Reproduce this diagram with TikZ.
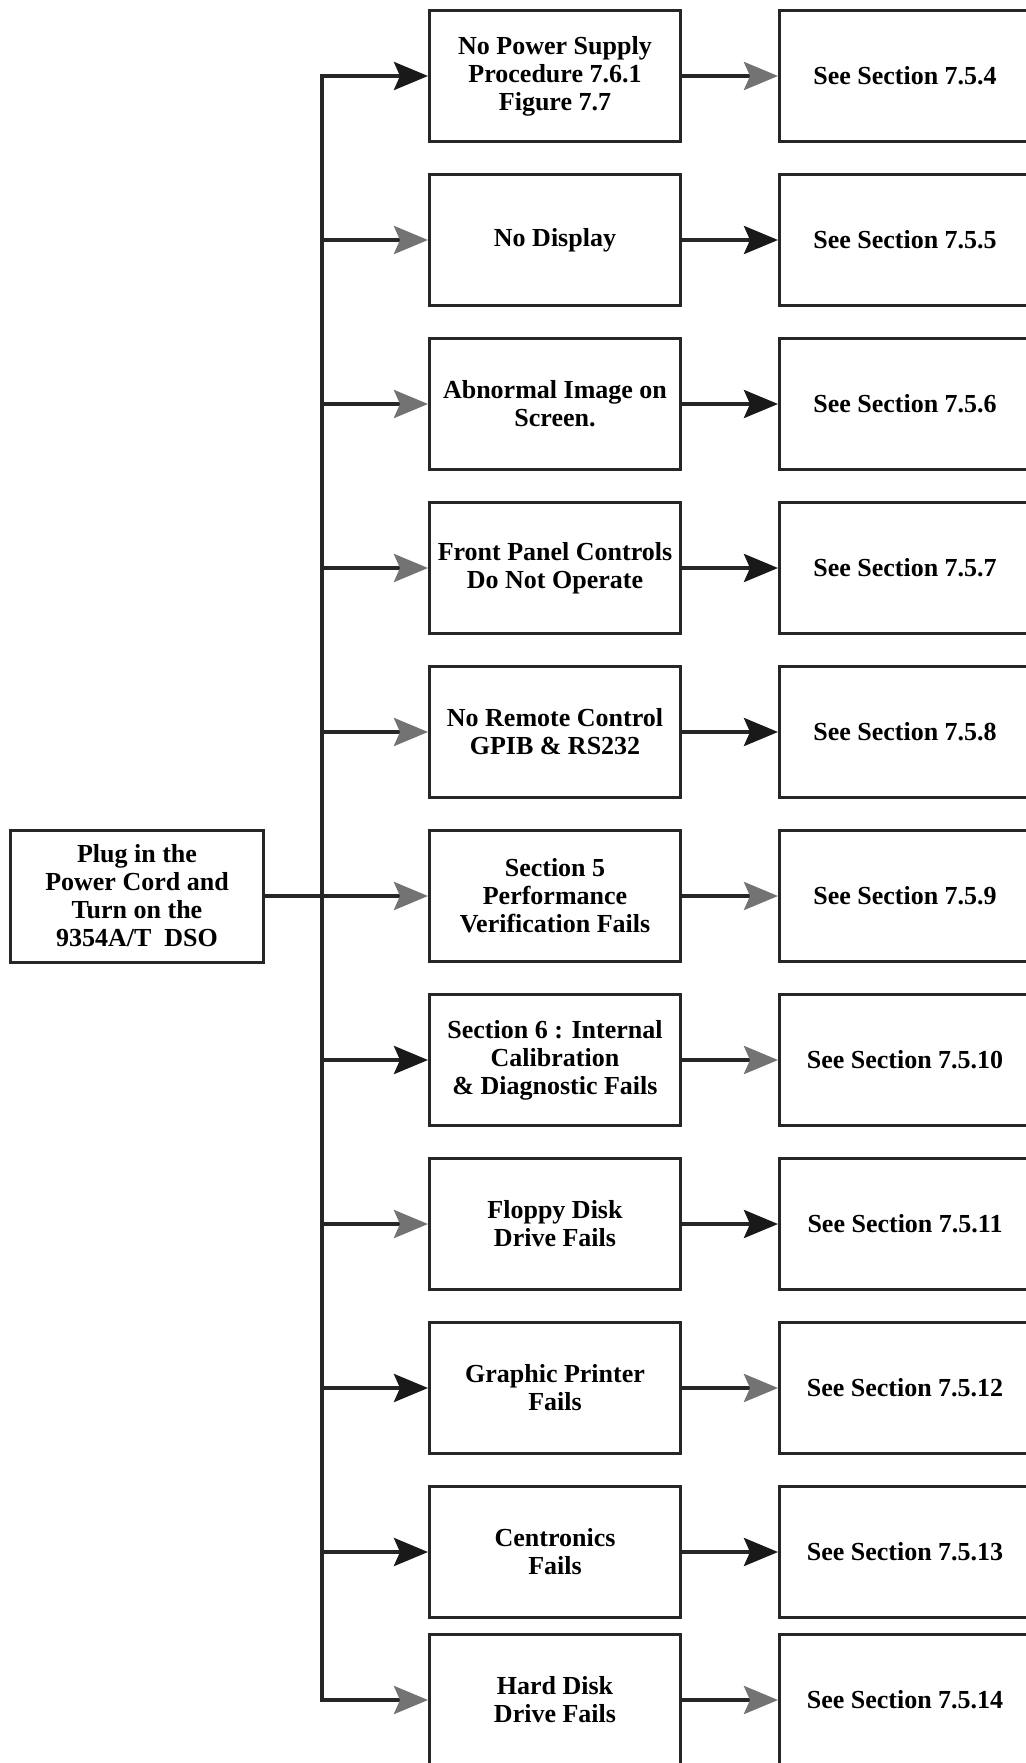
\documentclass[tikz,border=0pt]{standalone}
\usepackage{fontspec}
\setmainfont{Liberation Serif}
\usepackage{tikz}
\usetikzlibrary{arrows.meta, positioning}

\begin{document}
\begin{tikzpicture}[
  x=1pt, y=1pt, font=\fontsize{26}{28}\selectfont\bfseries, node distance=30pt,
  fault/.style={rectangle, draw=black!85, line width=3pt, fill=white, align=center,
                minimum width=251pt, minimum height=131pt, inner sep=3pt},
  seebox/.style={fault},
  plugbox/.style={fault, minimum width=253pt, minimum height=132pt},
  bus/.style={line width=4pt, draw=black!85, line cap=rect},
  link/.style={line width=4pt, draw=black!85,
               -{Stealth[length=34pt, width=28pt, inset=6pt, color=black!55]}},
  darklink/.style={line width=4pt, draw=black!85,
               -{Stealth[length=34pt, width=28pt, inset=6pt, color=black!90]}}]
  \useasboundingbox (0,0) rectangle (1025,-1763);
  % fault column
  \node[fault] (power) at (555,-76) {No Power Supply\\Procedure 7.6.1\\Figure 7.7};
  \node[fault, below=of power] (display) {No Display};
  \node[fault, below=of display] (image) {Abnormal Image on\\Screen.};
  \node[fault, below=of image] (panel) {Front Panel Controls\\Do Not Operate};
  \node[fault, below=of panel] (remote) {No Remote Control\\GPIB \& RS232};
  \node[fault, below=of remote] (perf) {Section 5\\Performance\\Verification Fails};
  \node[fault, below=of perf] (calib) {Section 6 : Internal\\Calibration\\\& Diagnostic Fails};
  \node[fault, below=of calib] (floppy) {Floppy Disk\\Drive Fails};
  \node[fault, below=of floppy] (printer) {Graphic Printer\\Fails};
  \node[fault, below=of printer] (centr) {Centronics\\Fails};
  \node[fault, below=14pt of centr] (hard) {Hard Disk\\Drive Fails};
  % section column
  \node[seebox, right=96pt of power] (see4) {See Section 7.5.4};
  \node[seebox, right=96pt of display] (see5) {See Section 7.5.5};
  \node[seebox, right=96pt of image] (see6) {See Section 7.5.6};
  \node[seebox, right=96pt of panel] (see7) {See Section 7.5.7};
  \node[seebox, right=96pt of remote] (see8) {See Section 7.5.8};
  \node[seebox, right=96pt of perf] (see9) {See Section 7.5.9};
  \node[seebox, right=96pt of calib] (see10) {See Section 7.5.10};
  \node[seebox, right=96pt of floppy] (see11) {See Section 7.5.11};
  \node[seebox, right=96pt of printer] (see12) {See Section 7.5.12};
  \node[seebox, right=96pt of centr] (see13) {See Section 7.5.13};
  \node[seebox, right=96pt of hard] (see14) {See Section 7.5.14};
  % start
  \node[plugbox] (plug) at (137,-896) {Plug in the\\Power Cord and\\Turn on the\\9354A/T\ \ DSO};
  \coordinate (trunk) at (322,0);
  \draw[bus] (trunk |- power) -- (trunk |- hard);
  \draw[link] (plug) -- (perf);
  \draw[darklink] (trunk |- power) -- (power);
  \draw[link] (trunk |- display) -- (display);
  \draw[link] (trunk |- image) -- (image);
  \draw[link] (trunk |- panel) -- (panel);
  \draw[link] (trunk |- remote) -- (remote);
  \draw[darklink] (trunk |- calib) -- (calib);
  \draw[link] (trunk |- floppy) -- (floppy);
  \draw[darklink] (trunk |- printer) -- (printer);
  \draw[darklink] (trunk |- centr) -- (centr);
  \draw[link] (trunk |- hard) -- (hard);
  \draw[link] (power) -- (see4);
  \draw[darklink] (display) -- (see5);
  \draw[darklink] (image) -- (see6);
  \draw[darklink] (panel) -- (see7);
  \draw[darklink] (remote) -- (see8);
  \draw[link] (perf) -- (see9);
  \draw[link] (calib) -- (see10);
  \draw[darklink] (floppy) -- (see11);
  \draw[link] (printer) -- (see12);
  \draw[darklink] (centr) -- (see13);
  \draw[link] (hard) -- (see14);
\end{tikzpicture}
\end{document}
